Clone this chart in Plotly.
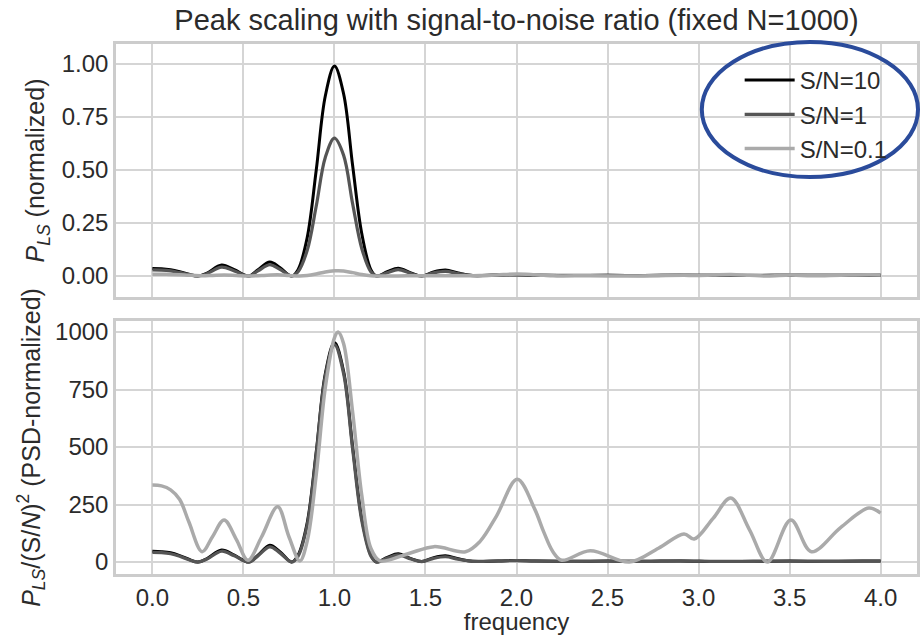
import plotly.graph_objects as go
from plotly.subplots import make_subplots

# ---------------- data ----------------
# Top panel: normalized periodogram
f_top_hi = [0.0, 0.05, 0.1, 0.15, 0.2, 0.25, 0.3, 0.38, 0.45, 0.53, 0.58, 0.645, 0.70, 0.765,
            0.80, 0.85, 0.90, 0.95, 1.00, 1.05, 1.10, 1.15, 1.20, 1.23, 1.29, 1.35, 1.42, 1.48,
            1.54, 1.61, 1.68, 1.76, 1.9, 2.0, 2.1, 2.3, 2.5, 2.7, 2.9, 3.1, 3.3, 3.5, 3.7, 3.9, 4.0]
p_top_sn10 = [0.035, 0.034, 0.029, 0.02, 0.009, 0.0, 0.014, 0.052, 0.03, 0.0, 0.03, 0.066, 0.04, 0.0,
              0.03, 0.18, 0.50, 0.85, 0.99, 0.86, 0.52, 0.20, 0.03, 0.0, 0.02, 0.037, 0.015, 0.0,
              0.018, 0.028, 0.014, 0.002, 0.005, 0.006, 0.004, 0.002, 0.003, 0.002, 0.004, 0.003,
              0.002, 0.004, 0.003, 0.004, 0.004]
p_top_sn1 = [0.029, 0.028, 0.024, 0.016, 0.007, 0.0, 0.011, 0.042, 0.024, 0.0, 0.024, 0.053, 0.032, 0.0,
             0.02, 0.12, 0.33, 0.56, 0.65, 0.57, 0.34, 0.13, 0.02, 0.0, 0.015, 0.03, 0.012, 0.0,
             0.014, 0.022, 0.011, 0.002, 0.005, 0.005, 0.004, 0.003, 0.003, 0.002, 0.004, 0.003,
             0.003, 0.004, 0.003, 0.004, 0.004]

f_lo = [0.0, 0.05, 0.1, 0.15, 0.2, 0.273, 0.33, 0.394, 0.46, 0.525, 0.6, 0.688, 0.75, 0.81, 0.85,
        0.9, 0.95, 1.0, 1.02, 1.05, 1.1, 1.15, 1.2, 1.25, 1.4, 1.547, 1.72, 1.80, 1.89, 2.004,
        2.1, 2.15, 2.2, 2.248, 2.405, 2.62, 2.78, 2.92, 2.976, 3.08, 3.177, 3.28, 3.378, 3.507,
        3.62, 3.78, 3.935, 4.0]
p_top_sn01 = [0.008, 0.0079, 0.0075, 0.0065, 0.004, 0.0011, 0.0027, 0.0045, 0.0025, 0.0002, 0.0027,
              0.006, 0.0027, 0.0001, 0.0022, 0.0095, 0.019, 0.0244, 0.025, 0.0237, 0.016, 0.0072,
              0.0015, 0.0001, 0.0009, 0.0017, 0.0011, 0.0022, 0.005, 0.009, 0.0057, 0.0033, 0.0011,
              0.0002, 0.0012, 0.0, 0.0015, 0.003, 0.0025, 0.0047, 0.007, 0.0035, 0.0, 0.0045,
              0.0011, 0.0037, 0.0059, 0.0053]

# Bottom panel: PSD-normalized periodogram divided by (S/N)^2
f_bot_hi = f_top_hi
p_bot_sn10 = [47, 45, 40, 28, 12, 0, 15, 52, 30, 0, 30, 73, 45, 0,
              30, 170, 480, 820, 955, 830, 500, 190, 30, 0, 20, 36, 15, 2,
              18, 27, 14, 3, 5, 7, 5, 3, 4, 3, 5, 2, 3, 4, 3, 4, 4]
p_bot_sn1 = [42, 41, 36, 25, 10, 0, 13, 47, 27, 0, 27, 66, 40, 0,
             25, 160, 470, 810, 945, 820, 490, 180, 26, 0, 17, 31, 13, 2,
             15, 23, 12, 3, 5, 6, 5, 3, 4, 3, 5, 3, 3, 4, 3, 4, 4]
p_bot_sn01 = [335, 331, 314, 272, 175, 45, 110, 183, 100, 8, 110, 240, 110, 5, 90,
              380, 760, 975, 1000, 950, 650, 290, 60, 5, 35, 67, 45, 90, 200, 360,
              230, 130, 45, 8, 49, 0, 60, 122, 100, 190, 278, 140, 0, 183,
              45, 150, 235, 213]

labels = ["S/N=10", "S/N=1", "S/N=0.1"]
colors = ["#000000", "#555555", "#aaaaaa"]
x_ticks = [0.0, 0.5, 1.0, 1.5, 2.0, 2.5, 3.0, 3.5, 4.0]

# ---------------- figure ----------------
W, H = 922, 635
ml, mr, mt, mb = 116, 2, 44, 61
fig = make_subplots(rows=2, cols=1, shared_xaxes=True, vertical_spacing=24 / 530)

top_series = [(f_top_hi, p_top_sn10), (f_top_hi, p_top_sn1), (f_lo, p_top_sn01)]
bot_series = [(f_bot_hi, p_bot_sn10), (f_bot_hi, p_bot_sn1), (f_lo, p_bot_sn01)]
widths = [3, 3.2, 3.5]

for i, (fx, py) in enumerate(top_series):
    fig.add_trace(go.Scatter(x=fx, y=py, mode="lines", name=labels[i],
                             line=dict(color=colors[i], width=widths[i], shape="spline", smoothing=1.0),
                             legendgroup=labels[i], showlegend=True), row=1, col=1)
for i, (fx, py) in enumerate(bot_series):
    fig.add_trace(go.Scatter(x=fx, y=py, mode="lines", name=labels[i],
                             line=dict(color=colors[i], width=widths[i], shape="spline", smoothing=1.0),
                             legendgroup=labels[i], showlegend=False), row=2, col=1)

font_family = "Liberation Sans, Arial, Helvetica, sans-serif"
txt_color = "#2b2b2b"
FS = 24
FT = 25
axis_common = dict(showgrid=True, gridcolor="#d5d5d5", gridwidth=1.5, zeroline=False,
                   showline=True, linecolor="#cccccc", linewidth=2.5, mirror=True,
                   ticks="", tickfont=dict(size=FS, color=txt_color, family=font_family))

fig.update_xaxes(**axis_common, range=[-0.2, 4.2], tickvals=x_ticks,
                 ticktext=[f"{v:.1f}" for v in x_ticks])
fig.update_xaxes(showticklabels=False, row=1, col=1)
fig.update_xaxes(title=dict(text="frequency", font=dict(size=FS, color=txt_color, family=font_family),
                            standoff=2), row=2, col=1)

fig.update_yaxes(**axis_common)
fig.update_yaxes(range=[-0.099, 1.094], tickvals=[0, 0.25, 0.5, 0.75, 1.0],
                 ticktext=["0.00", "0.25", "0.50", "0.75", "1.00"],
                 title=dict(text="<i>P</i><sub><i>LS</i></sub> (normalized)",
                            font=dict(size=FT, color=txt_color, family=font_family), standoff=10),
                 row=1, col=1)
fig.update_yaxes(range=[-52, 1048], tickvals=[0, 250, 500, 750, 1000],
                 ticktext=["0", "250", "500", "750", "1000"],
                 title=dict(text="<i>P</i><sub><i>LS</i></sub>/(S/<i>N</i>)<sup>2</sup> (PSD-normalized)",
                            font=dict(size=FT, color=txt_color, family=font_family), standoff=8),
                 row=2, col=1)

# hand-drawn style ellipse around the legend (pixel -> paper)
def px_x(p):
    return (p - ml) / (W - ml - mr)

def px_y(p):
    return (H - mb - p) / (H - mt - mb)

fig.add_shape(type="circle", xref="paper", yref="paper",
              x0=px_x(704), x1=px_x(921), y0=px_y(177), y1=px_y(42),
              line=dict(color="#2a4b9b", width=4), layer="above")

fig.update_layout(
    width=W, height=H,
    margin=dict(l=ml, r=mr, t=mt, b=mb),
    paper_bgcolor="white", plot_bgcolor="white",
    font=dict(family=font_family, color=txt_color, size=FS),
    title=dict(text="Peak scaling with signal-to-noise ratio (fixed N=1000)",
               xref="paper", x=px_x(518), xanchor="center",
               yref="container", y=1 - 20 / H, yanchor="middle",
               font=dict(size=29, color=txt_color, family=font_family)),
    legend=dict(x=px_x(742), y=px_y(58), xanchor="left", yanchor="top",
                bgcolor="rgba(0,0,0,0)", font=dict(size=FS, color=txt_color, family=font_family),
                tracegroupgap=0, itemwidth=50),
    showlegend=True,
)

fig.write_html("out.html")
